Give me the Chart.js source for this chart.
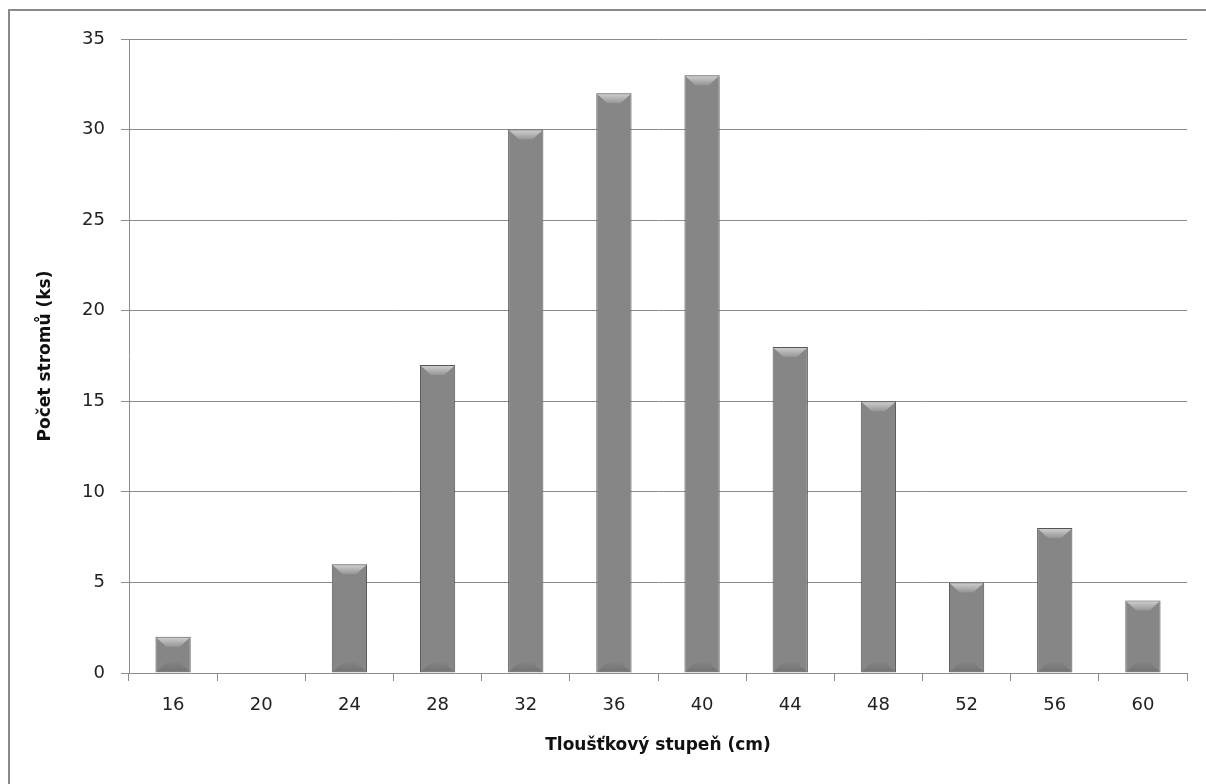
<!DOCTYPE html>
<html>
<head>
<meta charset="utf-8">
<script src="https://cdn.jsdelivr.net/npm/chart.js@4/dist/chart.umd.min.js"></script>
<style>
  html, body { margin: 0; padding: 0; background: #fff; }
  #wrap { position: relative; width: 1206px; height: 784px; }
</style>
</head>
<body>
<div id="wrap"><canvas id="trees-chart"></canvas></div>
<script>
// tree counts per diameter class
const categories = ['16', '20', '24', '28', '32', '36', '40', '44', '48', '52', '56', '60'];
const treeCounts = [2, 0, 6, 17, 30, 32, 33, 18, 15, 5, 8, 4];
const yTicks = [0, 5, 10, 15, 20, 25, 30, 35];

const FONT = 'DejaVu Sans';

// outer frame (only left/top edges visible in the picture)
const framePlugin = {
  id: 'frame',
  beforeDraw(chart) {
    const c = chart.ctx;
    c.save();
    c.strokeStyle = '#8a8a8a';
    c.lineWidth = 2;
    c.beginPath();
    c.moveTo(9, chart.height);
    c.lineTo(9, 10);
    c.lineTo(chart.width, 10);
    c.stroke();
    c.restore();
  }
};

// beveled look on the bars
const bevelPlugin = {
  id: 'bevel',
  afterDatasetsDraw(chart) {
    const c = chart.ctx;
    chart.getDatasetMeta(0).data.forEach(bar => {
      const { x, y, base, width } = bar.getProps(['x', 'y', 'base', 'width'], true);
      const h = base - y;
      if (!(h > 0)) return;
      const l = x - width / 2 + 1, r = x + width / 2 - 1;
      const d = Math.min(10, h / 2);
      c.save();
      // top bevel
      let g = c.createLinearGradient(0, y, 0, y + d);
      g.addColorStop(0, '#d2d2d2');
      g.addColorStop(1, '#959595');
      c.fillStyle = g;
      c.beginPath();
      c.moveTo(l, y + 1);
      c.lineTo(r, y + 1);
      c.lineTo(r - d, y + d);
      c.lineTo(l + d, y + d);
      c.closePath();
      c.fill();
      // bottom bevel
      g = c.createLinearGradient(0, base - d, 0, base);
      g.addColorStop(0, '#828282');
      g.addColorStop(1, '#727272');
      c.fillStyle = g;
      c.beginPath();
      c.moveTo(l + d, base - d);
      c.lineTo(r - d, base - d);
      c.lineTo(r, base - 1);
      c.lineTo(l, base - 1);
      c.closePath();
      c.fill();
      c.restore();
    });
  }
};

function barFill(ctx) {
  const el = ctx.element;
  if (!el) return '#868686';
  const { x, width } = el.getProps(['x', 'width'], true);
  if (!isFinite(x) || !isFinite(width) || width <= 0) return '#868686';
  const g = ctx.chart.ctx.createLinearGradient(x - width / 2, 0, x + width / 2, 0);
  g.addColorStop(0, '#606060');
  g.addColorStop(0.2, '#878787');
  g.addColorStop(0.8, '#878787');
  g.addColorStop(1, '#5e5e5e');
  return g;
}

function drawTreesChart() {
  const canvas = document.getElementById('trees-chart');
  new Chart(canvas, {
    type: 'bar',
    data: {
      labels: categories,
      datasets: [{
        data: treeCounts,
        backgroundColor: barFill,
        borderColor: '#555555',
        borderWidth: 1,
        barPercentage: 0.4,
        categoryPercentage: 1.0,
      }],
    },
    options: {
      responsive: true, maintainAspectRatio: false,
      animation: false,
      devicePixelRatio: 1,
      layout: { padding: { top: 39, right: 19, left: 0, bottom: 0 } },
      plugins: { legend: { display: false }, tooltip: { enabled: false } },
      scales: {
        x: {
          offset: true,
          grid: { offset: true, drawOnChartArea: false, color: '#8c8c8c', tickLength: 8, tickColor: '#8c8c8c' },
          border: { color: '#8c8c8c' },
          ticks: { font: { family: FONT, size: 18 }, color: '#222', padding: 14, maxRotation: 0 },
          title: { display: true, text: 'Tloušťkový stupeň (cm)', font: { family: FONT, size: 17, weight: 'bold' }, color: '#111', padding: { top: 0, bottom: 28 } },
          afterFit: s => { s.height = 111; },
        },
        y: {
          min: 0, max: 35,
          afterBuildTicks: s => { s.ticks = yTicks.map(v => ({ value: v })); },
          grid: { color: '#8c8c8c', tickLength: 8, tickColor: '#8c8c8c' },
          border: { color: '#8c8c8c' },
          ticks: { font: { family: FONT, size: 18 }, color: '#222', padding: 16 },
          title: { display: true, text: 'Počet stromů (ks)', font: { family: FONT, size: 17, weight: 'bold' }, color: '#111', padding: { top: 35, bottom: 0 } },
          afterFit: s => { s.width = 129; },
        },
      },
    },
    plugins: [framePlugin, bevelPlugin],
  });
}

drawTreesChart();
</script>
</body>
</html>
